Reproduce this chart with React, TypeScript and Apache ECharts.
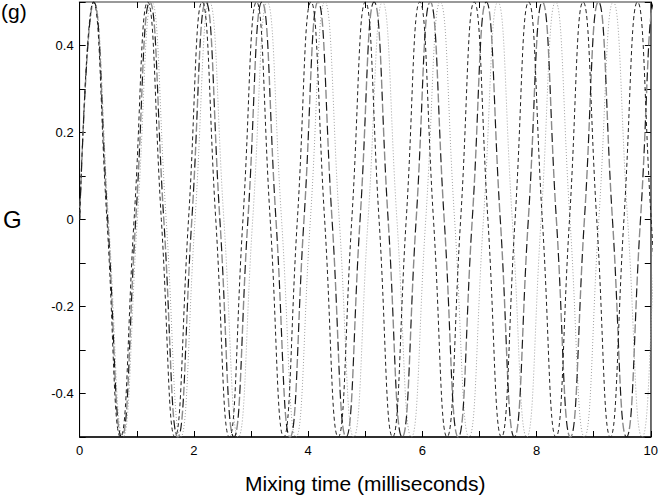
import React, { useEffect, useRef } from "react";
import * as echarts from "echarts";

// Curve A (short dash): times of zeros / peaks / troughs
const tA = [0, 0.238, 0.477, 0.715, 0.953, 1.191, 1.43, 1.668, 1.906, 2.144, 2.383, 2.621, 2.859, 3.097, 3.336, 3.574, 3.812, 4.05, 4.289, 4.527, 4.765, 5.003, 5.242, 5.48, 5.718, 5.956, 6.195, 6.433, 6.671, 6.909, 7.148, 7.386, 7.624, 7.862, 8.101, 8.339, 8.577, 8.815, 9.054, 9.292, 9.53, 9.768, 10.007, 10.245];
const gA = [0, 0.5, 0, -0.5, 0, 0.5, 0, -0.5, 0, 0.5, 0, -0.5, 0, 0.5, 0, -0.5, 0, 0.5, 0, -0.5, 0, 0.5, 0, -0.5, 0, 0.5, 0, -0.5, 0, 0.5, 0, -0.5, 0, 0.5, 0, -0.5, 0, 0.5, 0, -0.5, 0, 0.5, 0, -0.5];

// Curve B (long dash, black / grey)
const tB = [0, 0.246, 0.491, 0.737, 0.982, 1.228, 1.473, 1.719, 1.964, 2.21, 2.455, 2.701, 2.946, 3.192, 3.437, 3.683, 3.928, 4.174, 4.419, 4.665, 4.91, 5.156, 5.401, 5.647, 5.892, 6.138, 6.383, 6.629, 6.874, 7.12, 7.365, 7.611, 7.856, 8.102, 8.347, 8.593, 8.838, 9.084, 9.329, 9.575, 9.82, 10.066, 10.311];
const gB = [0, 0.5, 0, -0.5, 0, 0.5, 0, -0.5, 0, 0.5, 0, -0.5, 0, 0.5, 0, -0.5, 0, 0.5, 0, -0.5, 0, 0.5, 0, -0.5, 0, 0.5, 0, -0.5, 0, 0.5, 0, -0.5, 0, 0.5, 0, -0.5, 0, 0.5, 0, -0.5, 0, 0.5, 0];

// Curve C (dotted grey)
const tC = [0, 0.253, 0.505, 0.758, 1.01, 1.263, 1.515, 1.768, 2.02, 2.273, 2.525, 2.778, 3.03, 3.283, 3.535, 3.788, 4.04, 4.293, 4.545, 4.798, 5.05, 5.303, 5.555, 5.808, 6.06, 6.313, 6.565, 6.818, 7.07, 7.323, 7.575, 7.828, 8.08, 8.333, 8.585, 8.838, 9.09, 9.343, 9.595, 9.848, 10.1, 10.353];
const gC = [0, 0.5, 0, -0.5, 0, 0.5, 0, -0.5, 0, 0.5, 0, -0.5, 0, 0.5, 0, -0.5, 0, 0.5, 0, -0.5, 0, 0.5, 0, -0.5, 0, 0.5, 0, -0.5, 0, 0.5, 0, -0.5, 0, 0.5, 0, -0.5, 0, 0.5, 0, -0.5, 0, 0.5];

const xTickLabels = ["0", "2", "4", "6", "8", "10"];
const yTickLabels = ["-0.4", "-0.2", "0", "0.2", "0.4"];

const FONT = "'Liberation Sans', Arial, Helvetica, sans-serif";

const pairs = (t: number[], g: number[]) => t.map((x, i) => [x, g[i]]);

export default function App() {
  const ref = useRef<HTMLDivElement>(null);
  useEffect(() => {
    if (!ref.current) return;
    const chart = echarts.init(ref.current, null, { renderer: "svg" });
    const fmtY = (v: number) => {
      const s = String(Math.round(v * 10) / 10);
      return yTickLabels.includes(s) ? s : "";
    };
    const fmtX = (v: number) => {
      const s = String(Math.round(v));
      return xTickLabels.includes(s) ? s : "";
    };
    const baseLine = (style: any) => ({
      type: "line",
      showSymbol: false,
      smooth: 0.5,
      clip: true,
      silent: true,
      lineStyle: style,
    });
    chart.setOption({
      animation: false,
      backgroundColor: "#fff",
      textStyle: { fontFamily: FONT },
      grid: {
        left: 75,
        right: 7,
        top: 2,
        bottom: 59,
        show: true,
        borderColor: "#777",
        borderWidth: 1,
        backgroundColor: "transparent",
      },
      graphic: [
        {
          type: "text",
          left: 1,
          top: 1,
          style: { text: "(g)", font: `21px ${FONT}`, fill: "#000" },
        },
      ],
      xAxis: [
        {
          type: "value",
          min: 0,
          max: 10,
          interval: 1,
          position: "bottom",
          axisLine: { show: true, onZero: false, lineStyle: { color: "#000", width: 1.5 } },
          axisTick: { show: true, inside: true, length: 6, lineStyle: { color: "#000" } },
          axisLabel: { formatter: fmtX, fontSize: 13, color: "#000", margin: 7, fontFamily: FONT },
          splitLine: { show: false },
          name: "Mixing time (milliseconds)",
          nameLocation: "middle",
          nameGap: 36,
          nameTextStyle: { fontSize: 21, color: "#000", fontFamily: FONT },
        },
        {
          type: "value",
          min: 0,
          max: 10,
          interval: 1,
          position: "top",
          axisLine: { show: true, onZero: false, lineStyle: { color: "#999", width: 2 } },
          axisTick: { show: true, inside: true, length: 6, lineStyle: { color: "#000" } },
          axisLabel: { show: false },
          splitLine: { show: false },
        },
      ],
      yAxis: [
        {
          type: "value",
          min: -0.5,
          max: 0.5,
          interval: 0.1,
          position: "left",
          axisLine: { show: true, onZero: false, lineStyle: { color: "#000", width: 1 } },
          axisTick: { show: true, inside: true, length: 6, lineStyle: { color: "#000" } },
          axisLabel: { formatter: fmtY, fontSize: 13, color: "#000", margin: 6, fontFamily: FONT },
          splitLine: { show: false },
          name: "G",
          nameLocation: "middle",
          nameRotate: 0,
          nameGap: 58,
          nameTextStyle: { fontSize: 24, color: "#000", fontFamily: FONT },
        },
        {
          type: "value",
          min: -0.5,
          max: 0.5,
          interval: 0.1,
          position: "right",
          axisLine: { show: true, onZero: false, lineStyle: { color: "#555", width: 1.5 } },
          axisTick: { show: true, inside: true, length: 6, lineStyle: { color: "#000" } },
          axisLabel: { show: false },
          splitLine: { show: false },
        },
      ],
      series: [
        {
          ...baseLine({ color: "#a0a0a0", width: 1, type: [1, 2] }),
          name: "C",
          data: pairs(tC, gC),
        },
        {
          ...baseLine({ color: "#8a8a8a", width: 1.4, type: [9, 15], dashOffset: 12 }),
          name: "B grey",
          data: pairs(tB, gB),
        },
        {
          ...baseLine({ color: "#1a1a1a", width: 1.2, type: [9, 15], dashOffset: 0 }),
          name: "B black",
          data: pairs(tB, gB),
        },
        {
          ...baseLine({ color: "#222", width: 1, type: [4, 3] }),
          name: "A",
          data: pairs(tA, gA),
        },
      ],
    });
    return () => chart.dispose();
  }, []);
  return (
    <div
      ref={ref}
      style={{ position: "fixed", left: 0, top: 0, width: 661, height: 499, background: "#fff" }}
    />
  );
}
